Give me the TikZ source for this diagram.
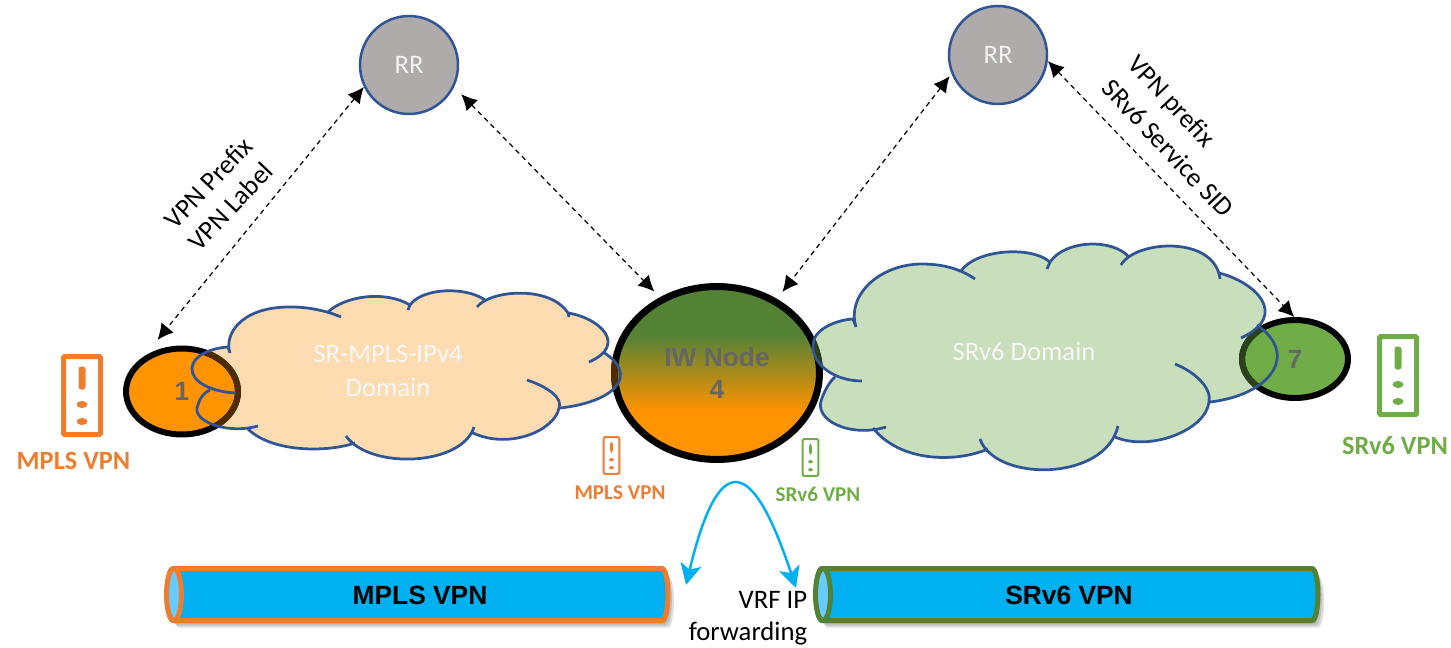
\documentclass[tikz,border=0pt]{standalone}
\usepackage{fontspec}
\setmainfont{Carlito}
\newfontfamily\arialfont{Liberation Sans}
\usetikzlibrary{arrows.meta,shapes.geometric}
\definecolor{cloudblue}{HTML}{2F5597}
\definecolor{vpnorange}{HTML}{ED7D31}
\definecolor{vpngreen}{HTML}{70AD47}
\definecolor{darkgreen}{HTML}{548235}
\definecolor{nodeorange}{HTML}{FF9300}
\definecolor{tubeblue}{HTML}{00B0F0}
\definecolor{tubeend}{HTML}{66CCFF}
\definecolor{rrgrey}{HTML}{AFABAB}
\definecolor{peach}{HTML}{FEDCB2}
\definecolor{palegreen}{HTML}{C9DFBC}
\pgfdeclareverticalshading{iwshade}{100bp}{color(0bp)=(nodeorange); color(39bp)=(nodeorange); color(61bp)=(darkgreen); color(100bp)=(darkgreen)}
% cloud outlines, one curve per lobe, #1 joins the lobes
\newcommand\leftcloud[1]{
(230,353) .. controls (224,335) and (240,308) .. (287,307) .. controls (305,306.5) and (325,310) .. (341,317) #1
(328,312) .. controls (345,296) and (385,290) .. (410,305) -- (408,310) #1
(410,305) .. controls (422,288) and (465,286) .. (485,300) #1
(477,307) .. controls (490,290) and (550,285) .. (568,313) -- (569,317) #1
(568,313) .. controls (600,318) and (628,345) .. (589,362) #1
(603,352) .. controls (640,375) and (615,402) .. (560,408) #1
(527,380) .. controls (548,387) and (563,398) .. (559,408) .. controls (555,430) and (510,450) .. (473,433) #1
(474,427) .. controls (462,466) and (370,470) .. (346,436) #1
(355,443) .. controls (325,453) and (270,452) .. (247,428) #1
(258,426) .. controls (225,435) and (190,420) .. (198,405) .. controls (200,397) and (205,392) .. (210,390) #1
(236,393) .. controls (212,392) and (191,382) .. (192,368) .. controls (193,355) and (212,348) .. (228,347) -- (230,353)
}
\newcommand\rightcloud[1]{
(856,327) .. controls (846,295) and (880,264) .. (922,264) .. controls (945,264) and (962,270) .. (975,279) #1
(961,271) .. controls (975,250) and (1030,245) .. (1050,262) -- (1047,269) #1
(1050,262) .. controls (1065,240) and (1112,238) .. (1129,257) #1
(1121,265) .. controls (1135,240) and (1215,235) .. (1220,279) #1
(1219,273) .. controls (1255,282) and (1290,315) .. (1241,338) #1
(1257,325) .. controls (1300,355) and (1270,395) .. (1210,402) #1
(1175,364) .. controls (1195,372) and (1212,388) .. (1209,402) .. controls (1206,430) and (1150,452) .. (1115,437) #1
(1118,426) .. controls (1105,482) and (995,482) .. (980,439) #1
(988,449) .. controls (955,463) and (900,462) .. (873,428) #1
(886,427) .. controls (850,438) and (812,420) .. (822,398) .. controls (825,390) and (830,381) .. (835,377) #1
(862,381) .. controls (835,381) and (812,365) .. (813,345) .. controls (813,330) and (835,320) .. (853,319) -- (856,327)
}
% tube body, #1 and #2 are the centres of its two ends
\newcommand\tubepath[2]{(#1,568.5) -- (#2,568.5) arc[start angle=-90,end angle=90,x radius=6,y radius=26] -- (#1,620.5) arc[start angle=90,end angle=270,x radius=6,y radius=26] -- cycle}
\tikzset{
  rrnode/.style={circle,draw=cloudblue,fill=rrgrey,line width=0.05cm,minimum size=1.96cm,
    text=white!95!black,font=\fontsize{15.2}{18}\selectfont},
  penode/.style={ellipse,draw=black,line width=0.12cm,minimum width=2.24cm,minimum height=1.72cm,
    text=black!60,font=\arialfont\bfseries\fontsize{15}{18.7}\selectfont,align=center},
  domainlabel/.style={text=white!97!black,align=center,font=\fontsize{15.2}{18}\selectfont},
  cloudline/.style={draw=cloudblue,line width=0.055cm},
  biglabel/.style={font=\bfseries\fontsize{15}{18}\selectfont},
  smalllabel/.style={font=\bfseries\fontsize{12}{14}\selectfont},
  bgplabel/.style={align=left,font=\fontsize{15.2}{18.3}\selectfont},
  bgparrow/.style={dashed,dash pattern=on 2.8pt off 2.3pt,line width=0.7pt,
    {Latex[length=9pt,width=9pt]}-{Latex[length=9pt,width=9pt]}},
  tubeline/.style={line width=0.1cm,fill=tubeblue},
  tubelabel/.style={font=\arialfont\bfseries\fontsize{15}{18}\selectfont},
  pics/vpnbox/.style={code={
    \draw[#1,rounded corners=0.6pt] (-18.5,-39) rectangle (18.5,39);
    \fill[#1,rounded corners=1.5pt] (-3.5,-29) rectangle (3.5,-6);
    \fill[#1] (0,9) ellipse (5.5 and 3.5);
    \fill[#1] (0,26) ellipse (5.5 and 3.5);
  }}
}
\begin{document}
\begin{tikzpicture}[x=0.02cm,y=-0.02cm]
\useasboundingbox (0,0) rectangle (1451,647);
% cloud fills go under the nodes
\fill[fill=peach] \leftcloud{--} -- cycle;
\fill[fill=palegreen] \rightcloud{--} -- cycle;
\node[rrnode] (rrleft) at (409,65) {RR};
\node[rrnode] (rrright) at (998,55) {RR};
\node[penode,fill=nodeorange] (peone) at (182,391.5) {1};
\node[penode,line width=0.14cm,minimum width=4.1cm,minimum height=3.46cm,shading=iwshade] (iwnode) at (717,373) {IW Node\\4};
\node[penode,minimum width=2.12cm,minimum height=1.56cm,fill=vpngreen] (peseven) at (1295,359) {7};
% the clouds tint the rings where they overlap
\begin{scope}
\clip \leftcloud{--} -- cycle;
\draw[line width=0.12cm,draw=nodeorange!30!black] (peone.center) ellipse (56 and 43);
\draw[line width=0.14cm,draw=nodeorange!30!black] (iwnode.center) ellipse (102.5 and 86.5);
\end{scope}
\begin{scope}
\clip \rightcloud{--} -- cycle;
\draw[line width=0.12cm,draw=darkgreen!50!black] (peseven.center) ellipse (53 and 39);
\draw[line width=0.14cm,draw=darkgreen!50!black] (iwnode.center) ellipse (102.5 and 86.5);
\end{scope}
\draw[cloudline] \leftcloud{};
\draw[cloudline] \rightcloud{};
\node[domainlabel] (srmpls) at (388,371) {SR-MPLS-IPv4\\[1pt]Domain};
\node[domainlabel] (srdomain) at (1024,351) {SRv6 Domain};
% BGP sessions
\draw[bgparrow,shorten >=12pt] (rrleft.206) -- (peone.137);
\draw[bgparrow,shorten <=5.7pt,shorten >=4.5pt] (rrleft.334) -- (iwnode.127);
\draw[bgparrow,shorten <=1.7pt,shorten >=5pt] (rrright.202) -- (iwnode.51);
\draw[bgparrow] (rrright.353) -- (peseven.91);
\node[bgplabel,rotate=46.7] (leftbgp) at (220,194) {VPN Prefix\\VPN Label};
\node[bgplabel,rotate=-46.7,font=\fontsize{15.2}{20}\selectfont] (rightbgp) at (1181,136) {VPN prefix\\SRv6 Service SID};
% service boxes
\pic[line width=0.1cm] at (82,395.5) {vpnbox=vpnorange};
\pic[line width=0.1cm] at (1398,375.5) {vpnbox=vpngreen};
\pic[xscale=.42,yscale=.47,line width=0.04cm] at (611.5,455.5) {vpnbox=vpnorange};
\pic[xscale=.42,yscale=.47,line width=0.04cm] at (810.5,457.5) {vpnbox=vpngreen};
\node[biglabel,text=vpnorange] (mplsbig) at (73.5,461) {MPLS VPN};
\node[biglabel,text=vpngreen] (srv6big) at (1395,446) {SRv6 VPN};
\node[smalllabel,text=vpnorange] (mplssmall) at (620,493) {MPLS VPN};
\node[smalllabel,text=vpngreen] (srv6small) at (818,494) {SRv6 VPN};
% tunnels and the forwarding step between them
\foreach \s in {2,4,6}
  \fill[black,opacity=.13,shift={(\s,\s+1)}] \tubepath{173}{662} \tubepath{822}{1312};
\draw[tubeline,draw=vpnorange] \tubepath{173}{662};
\draw[line width=0.1cm,draw=vpnorange,fill=tubeend] (174,594.5) ellipse (7.5 and 26);
\draw[tubeline,draw=darkgreen] \tubepath{822}{1312};
\draw[line width=0.1cm,draw=darkgreen,fill=tubeend] (823,594.5) ellipse (7.5 and 26);
\node[tubelabel] (mplstube) at (420,595) {MPLS VPN};
\node[tubelabel] (srv6tube) at (1069,595) {SRv6 VPN};
\coordinate (fwdleft) at (686,585);
\coordinate (fwdright) at (796,588);
\draw[draw=tubeblue,line width=0.05cm,{Stealth[length=12pt,width=12pt,inset=3pt]}-{Stealth[length=12pt,width=12pt,inset=3pt]}]
  (fwdleft) .. controls (718,452) and (751,452) .. (fwdright);
\node[bgplabel,align=right] (vrfip) at (748,618) {VRF IP\hspace{4pt}\\forwarding};
\end{tikzpicture}
\end{document}
